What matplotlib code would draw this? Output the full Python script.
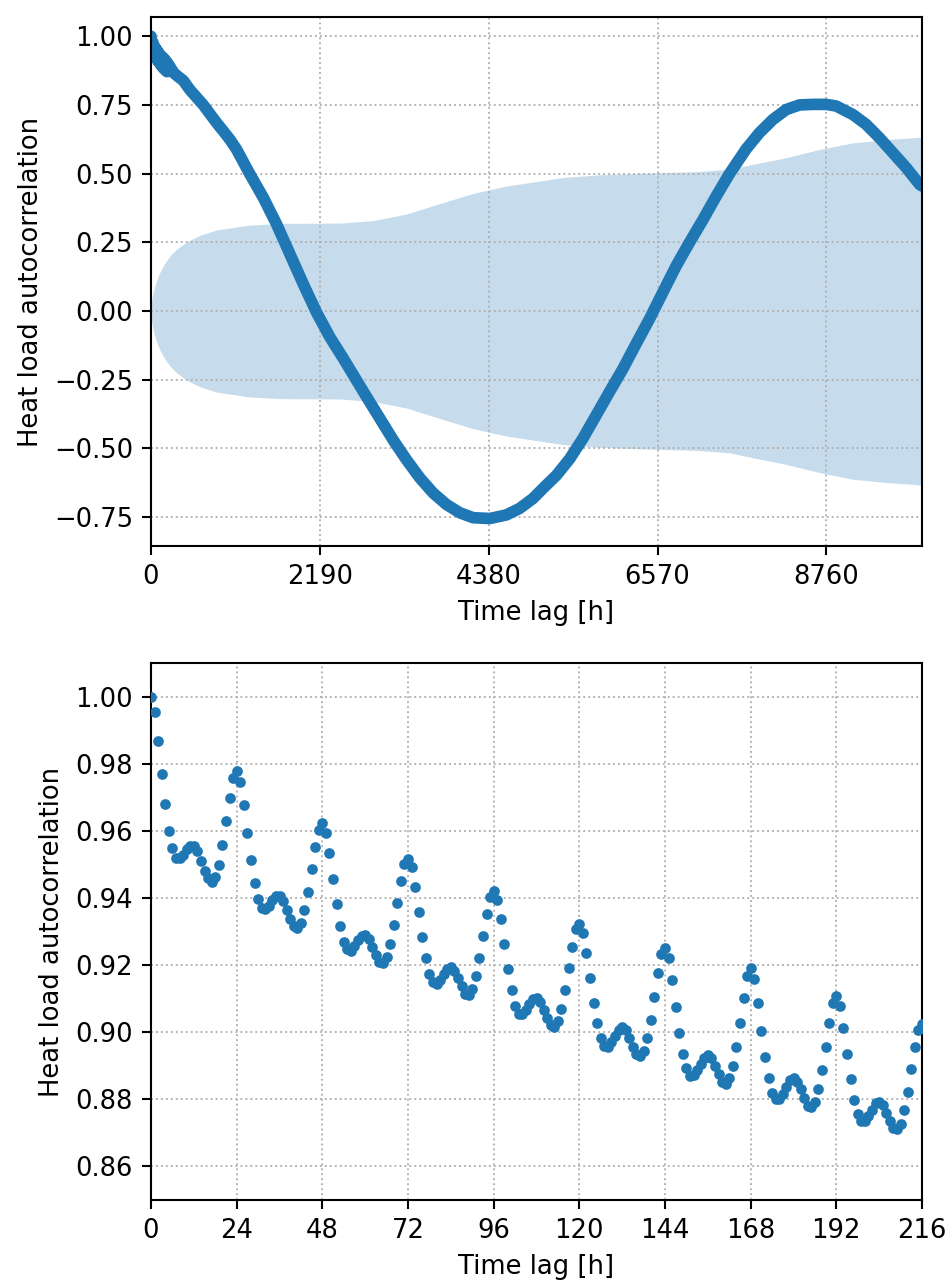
import numpy as np
import matplotlib
matplotlib.use("Agg")
import matplotlib.pyplot as plt

# hourly autocorrelation for the first 9 days
hourly_acf = [
    1.000, 0.9957, 0.987, 0.977, 0.968, 0.960, 0.955, 0.952, 0.952, 0.953, 0.9546, 0.9557,
    0.9557, 0.954, 0.951, 0.948, 0.946, 0.945, 0.9465, 0.950, 0.956, 0.963, 0.970, 0.976,
    0.978, 0.9748, 0.9679, 0.9594, 0.9513, 0.9446, 0.9397, 0.9372, 0.9367, 0.9377, 0.9395, 0.9408,
    0.9408, 0.9392, 0.9366, 0.9337, 0.9317, 0.931, 0.9326, 0.9364, 0.942, 0.9487, 0.9554, 0.9605,
    0.9624, 0.9596, 0.9534, 0.9459, 0.9383, 0.9317, 0.9271, 0.9248, 0.9243, 0.9258, 0.9276, 0.9288,
    0.929, 0.9279, 0.9256, 0.9231, 0.9211, 0.9206, 0.9226, 0.9263, 0.9319, 0.9387, 0.9451, 0.9501,
    0.9517, 0.9492, 0.9433, 0.9359, 0.9286, 0.9222, 0.9175, 0.915, 0.9145, 0.9156, 0.9173, 0.9188,
    0.9194, 0.9183, 0.9161, 0.9138, 0.9116, 0.9111, 0.913, 0.9167, 0.9223, 0.9289, 0.9353, 0.9403,
    0.9421, 0.9395, 0.9337, 0.9263, 0.9189, 0.9125, 0.908, 0.9056, 0.9054, 0.9068, 0.9085, 0.9099,
    0.9104, 0.9091, 0.9067, 0.9042, 0.9022, 0.9017, 0.9034, 0.907, 0.9125, 0.9192, 0.9256, 0.9307,
    0.9323, 0.9296, 0.9236, 0.9163, 0.9089, 0.9027, 0.8982, 0.8959, 0.8957, 0.8972, 0.8989, 0.9007,
    0.9015, 0.9007, 0.8982, 0.8957, 0.8937, 0.8929, 0.8945, 0.8982, 0.9038, 0.9106, 0.9176, 0.9233,
    0.9253, 0.9222, 0.9155, 0.9075, 0.8999, 0.8935, 0.8893, 0.8871, 0.8873, 0.8888, 0.8907, 0.8925,
    0.8932, 0.8924, 0.8901, 0.8876, 0.8853, 0.8846, 0.8863, 0.89, 0.8957, 0.9029, 0.9103, 0.9168,
    0.9193, 0.9158, 0.9089, 0.9005, 0.8926, 0.8863, 0.882, 0.88, 0.88, 0.8816, 0.8838, 0.8858,
    0.8863, 0.8853, 0.883, 0.8803, 0.878, 0.8776, 0.8793, 0.8831, 0.8888, 0.8957, 0.9029, 0.9087,
    0.9108, 0.9079, 0.9014, 0.8937, 0.8861, 0.8798, 0.8756, 0.8735, 0.8736, 0.875, 0.8768, 0.8788,
    0.8793, 0.8783, 0.876, 0.8735, 0.8715, 0.8711, 0.8728, 0.8768, 0.8823, 0.889, 0.8955, 0.9007,
    0.9024,
]

# longer lags
long_lags = [300, 420, 505, 678, 851, 937, 1024, 1110, 1283, 1456, 1629, 1801,
             1974, 2147, 2320, 2493, 2622, 2795, 2967, 3140, 3313, 3486, 3659, 3832,
             4005, 4177, 4393, 4609, 4782, 4955, 5085, 5258, 5430, 5603, 5776, 5949,
             6121, 6294, 6467, 6640, 6813, 6985, 7158, 7331, 7504, 7720, 7893, 8066,
             8238, 8411, 8584, 8757, 8887, 9103, 9276, 9449, 9621, 9794, 9967, 10000]
long_acf = [0.865, 0.838, 0.805, 0.750, 0.685, 0.655, 0.624, 0.588, 0.498, 0.413, 0.316, 0.208,
            0.099, -0.005, -0.095, -0.172, -0.232, -0.312, -0.390, -0.469, -0.541, -0.607, -0.662, -0.704,
            -0.734, -0.752, -0.755, -0.742, -0.718, -0.682, -0.645, -0.598, -0.538, -0.463, -0.378, -0.293,
            -0.210, -0.118, -0.028, 0.069, 0.165, 0.250, 0.332, 0.418, 0.500, 0.590, 0.649, 0.697,
            0.733, 0.750, 0.752, 0.752, 0.746, 0.715, 0.679, 0.630, 0.576, 0.522, 0.461, 0.455]

# 95% confidence band (upper edge, symmetric)
conf_lags = [0, 5, 15, 40, 73, 110, 150, 200, 260, 330, 420, 520, 640, 851, 1283, 1715,
             2449, 2881, 3313, 3745, 4177, 4609, 5041, 5344, 5776, 6208, 6640, 7072,
             7504, 7806, 8238, 8670, 9103, 9535, 10000]
conf_upper = [0.0, 0.030, 0.050, 0.083, 0.111, 0.138, 0.160, 0.183, 0.205, 0.224, 0.243,
              0.260, 0.276, 0.295, 0.313, 0.319, 0.320, 0.329, 0.353, 0.391, 0.428, 0.455,
              0.473, 0.486, 0.495, 0.500, 0.504, 0.507, 0.516, 0.534, 0.558, 0.588, 0.612,
              0.624, 0.633]

plt.rcParams.update({
    "font.size": 12.4,
    "axes.linewidth": 1.0,
    "axes.labelpad": 5.0,
    "xtick.major.size": 4.3,
    "ytick.major.size": 4.3,
    "xtick.major.width": 1.0,
    "ytick.major.width": 1.0,
    "xtick.major.pad": 4.3,
    "ytick.major.pad": 4.3,
})


def main():
    fig = plt.figure(figsize=(9.52 / 1.5, 12.84 / 1.5), dpi=150)

    hours = np.arange(len(hourly_acf))
    lags = np.concatenate([hours, long_lags])
    acf = np.concatenate([hourly_acf, long_acf])
    band = np.array(conf_upper)

    ax1 = fig.add_axes([151 / 952, 1 - 546 / 1284, 771 / 952, 529 / 1284])
    ax1.fill_between(conf_lags, -band, band, color="C0", alpha=0.25, lw=0)
    ax1.plot(lags, acf, color="C0", lw=5.6, solid_capstyle="round", solid_joinstyle="round")
    ax1.set_xlim(0, 10000)
    ax1.set_ylim(-0.855, 1.07)
    ax1.set_xticks([0, 2190, 4380, 6570, 8760])
    ax1.set_yticks([-0.75, -0.5, -0.25, 0, 0.25, 0.5, 0.75, 1.0])
    ax1.grid(True, linestyle=":", color="#b0b0b0", linewidth=0.9)
    ax1.set_xlabel("Time lag [h]")
    ax1.set_ylabel("Heat load autocorrelation")

    ax2 = fig.add_axes([151 / 952, 1 - 1200 / 1284, 771 / 952, 537 / 1284])
    ax2.scatter(hours, hourly_acf, s=17, color="C0", zorder=3)
    ax2.set_xlim(0, 216)
    ax2.set_ylim(0.85, 1.0102)
    ax2.set_xticks(np.arange(0, 217, 24))
    ax2.set_yticks([0.86, 0.88, 0.90, 0.92, 0.94, 0.96, 0.98, 1.00])
    ax2.grid(True, linestyle=":", color="#b0b0b0", linewidth=0.9)
    ax2.set_xlabel("Time lag [h]")
    ax2.set_ylabel("Heat load autocorrelation")

    fig.savefig("out.png", dpi=150)


if __name__ == "__main__":
    main()
